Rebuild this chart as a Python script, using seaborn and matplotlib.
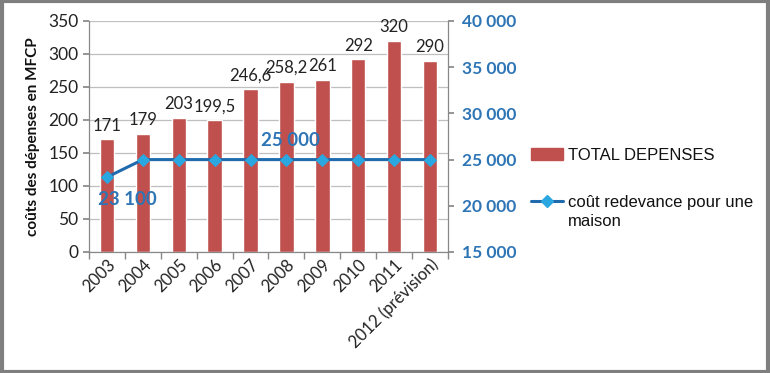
import matplotlib
matplotlib.use("Agg")
import matplotlib.pyplot as plt
import seaborn as sns
import pandas as pd
from matplotlib.ticker import FuncFormatter, FixedLocator
from matplotlib.patches import Rectangle
from matplotlib.lines import Line2D

# data
years = ["2003", "2004", "2005", "2006", "2007", "2008", "2009", "2010", "2011", "2012 (prévision)"]
total_depenses = [171, 179, 203, 199.5, 246.6, 258.2, 261, 292, 320, 290]
cout_redevance = [23100, 25000, 25000, 25000, 25000, 25000, 25000, 25000, 25000, 25000]

BAR_RED = "#C0504D"
LINE_BLUE = "#1F6BAE"
MARK_BLUE = "#2AA7E0"
AXIS_BLUE = "#2E75B6"

sns.set_theme(style="white")
plt.rcParams["font.family"] = ["Lato", "DejaVu Sans"]


def fr_num(v):
    s = f"{v:g}".replace(".", ",")
    return s


def thousands(v, pos=None):
    return f"{int(v):,}".replace(",", " ")


def main():
    df = pd.DataFrame({"annee": years, "depenses": total_depenses,
                       "redevance": cout_redevance, "pos": range(len(years))})

    fig = plt.figure(figsize=(7.7, 3.73), dpi=100)
    ax = fig.add_axes([0.1156, 0.3244, 0.4662, 0.6193])

    sns.barplot(data=df, x="annee", y="depenses", color=BAR_RED, width=0.4,
                saturation=1, ax=ax, zorder=2)
    ax.bar_label(ax.containers[0], labels=[fr_num(v) for v in total_depenses],
                 padding=4, fontsize=12, color="#222222")

    ax.set_ylim(0, 350)
    ax.set_xlim(-0.5, len(years) - 0.5)
    ax.set_yticks(range(0, 351, 50))
    ax.yaxis.grid(True, color="#BFBFBF", linewidth=0.9, zorder=0)
    ax.set_axisbelow(True)
    ax.set_xlabel("")
    ax.set_ylabel("coûts des dépenses en MFCP", fontsize=11, fontweight="bold",
                  color="#111111", labelpad=6)
    ax.tick_params(axis="y", labelsize=12.5, colors="#222222", length=4,
                   direction="out", left=True, color="#888888")
    ax.tick_params(axis="x", which="major", length=0, labelsize=12, colors="#222222", pad=3)
    ax.xaxis.set_minor_locator(FixedLocator([i - 0.5 for i in range(len(years) + 1)]))
    ax.tick_params(axis="x", which="minor", length=5, bottom=True, color="#888888")
    plt.setp(ax.get_xticklabels(), rotation=45, ha="right", rotation_mode="anchor")
    for side in ["top", "right"]:
        ax.spines[side].set_visible(False)
    for side in ["left", "bottom"]:
        ax.spines[side].set_color("#888888")
        ax.spines[side].set_linewidth(0.9)

    ax2 = ax.twinx()
    sns.lineplot(data=df, x="pos", y="redevance", color=LINE_BLUE, linewidth=2.2,
                 marker="D", markersize=6, markerfacecolor=MARK_BLUE,
                 markeredgecolor=MARK_BLUE, ax=ax2, zorder=3)
    ax2.set_ylim(15000, 40000)
    ax2.set_yticks(range(15000, 40001, 5000))
    ax2.yaxis.set_major_formatter(FuncFormatter(thousands))
    ax2.set_ylabel("")
    ax2.set_xlabel("")
    ax2.tick_params(axis="y", labelsize=12.5, labelcolor=AXIS_BLUE, length=4,
                    direction="out", right=True, color="#888888", pad=6)
    for lab in ax2.get_yticklabels():
        lab.set_fontweight("bold")
    for side in ["top", "left", "bottom"]:
        ax2.spines[side].set_visible(False)
    ax2.spines["right"].set_color("#888888")
    ax2.spines["right"].set_linewidth(0.9)
    ax2.set_xlim(-0.5, len(years) - 0.5)

    ax2.annotate(thousands(cout_redevance[0]), (0, cout_redevance[0]),
                 xytext=(15, -16), textcoords="offset points", ha="center", va="center",
                 fontsize=13.5, fontweight="bold", color=AXIS_BLUE)
    ax2.annotate(thousands(cout_redevance[5]), (5, cout_redevance[5]),
                 xytext=(3, 14), textcoords="offset points", ha="center", va="center",
                 fontsize=13.5, fontweight="bold", color=AXIS_BLUE)

    # legend: second label wraps, first line stays level with its handle (Excel style)
    handles = [Rectangle((0, 0), 1, 1, color=BAR_RED),
               Line2D([], [], color=LINE_BLUE, linewidth=2.2, marker="D",
                      markersize=6, markerfacecolor=MARK_BLUE, markeredgecolor=MARK_BLUE)]
    leg = fig.legend(handles, ["TOTAL DEPENSES", "coût redevance pour une"],
                     loc="upper left", bbox_to_anchor=(0.670, 0.643), frameon=False,
                     prop={"family": "Liberation Sans", "size": 12},
                     handlelength=1.95, handletextpad=0.25, labelspacing=1.9,
                     labelcolor="#111111")
    fig.canvas.draw()
    ext = leg.get_texts()[1].get_window_extent()
    x0, y0 = fig.transFigure.inverted().transform((ext.x0, ext.y0))
    fig.text(x0, y0 - 4 / 373, "maison", ha="left", va="top",
             family="Liberation Sans", fontsize=12, color="#111111")

    fig.patches.append(Rectangle((0.002, 0.004), 0.996, 0.992, transform=fig.transFigure,
                                 fill=False, edgecolor="#7F7F7F", linewidth=3))

    plt.savefig("out.png", dpi=100)


if __name__ == "__main__":
    main()
